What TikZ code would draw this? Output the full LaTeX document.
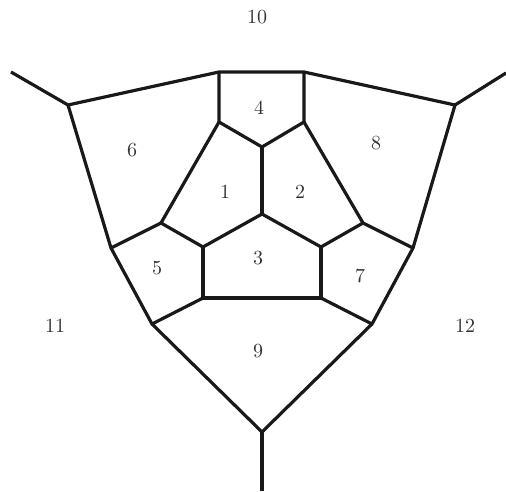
\documentclass[tikz,border=0pt]{standalone}
\begin{document}
\begin{tikzpicture}[x=0.5pt,y=-0.5pt,
  edge/.style={line width=1.6pt,color=black!90,line join=miter},
  lab/.style={font=\normalsize,text=black!80,inner sep=0pt}]
\useasboundingbox (0,0) rectangle (506,491);
% vertices
\coordinate (E) at (11,72);
\coordinate (F) at (506,73);
\coordinate (A) at (219,72);
\coordinate (B) at (304,72);
\coordinate (C) at (68,105);
\coordinate (D) at (455,105);
\coordinate (G) at (219,122);
\coordinate (H) at (304,122);
\coordinate (I) at (262,147);
\coordinate (J) at (262,214);
\coordinate (K) at (161,223);
\coordinate (L) at (363,223);
\coordinate (M) at (111,248);
\coordinate (N) at (413,248);
\coordinate (O) at (203,247);
\coordinate (P) at (321,247);
\coordinate (Q) at (203,298);
\coordinate (R) at (321,298);
\coordinate (S) at (152,324);
\coordinate (T) at (372,324);
\coordinate (U) at (262,432);
\coordinate (V) at (262,491);
% edges
\draw[edge] (E) -- (C) -- (A) -- (B) -- (D) -- (F);
\draw[edge] (A) -- (G) -- (I) -- (H) -- (B);
\draw[edge] (I) -- (J);
\draw[edge] (G) -- (K) -- (O) -- (J) -- (P) -- (L) -- (H);
\draw[edge] (C) -- (M) -- (S) -- (U) -- (T) -- (N) -- (D);
\draw[edge] (M) -- (K);
\draw[edge] (N) -- (L);
\draw[edge] (O) -- (Q) -- (R) -- (P);
\draw[edge] (S) -- (Q);
\draw[edge] (T) -- (R);
\draw[edge] (U) -- (V);
% labels
\node[lab] (l10) at (257,17) {10};
\node[lab] (l4) at (259,108) {4};
\node[lab] (l6) at (132,150) {6};
\node[lab] (l8) at (376,143) {8};
\node[lab] (l1) at (225,192) {1};
\node[lab] (l2) at (300,192) {2};
\node[lab] (l3) at (258,258) {3};
\node[lab] (l5) at (157,268) {5};
\node[lab] (l7) at (360,276) {7};
\node[lab] (l11) at (55,326) {11};
\node[lab] (l12) at (465,326) {12};
\node[lab] (l9) at (258,351) {9};
\end{tikzpicture}
\end{document}
